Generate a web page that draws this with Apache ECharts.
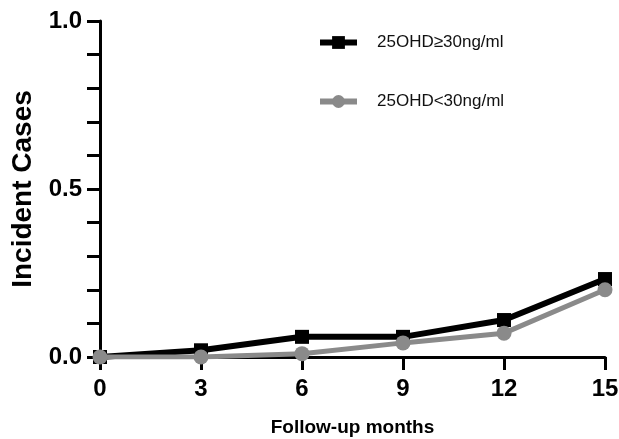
<!DOCTYPE html>
<html><head><meta charset="utf-8">
<script src="https://cdn.jsdelivr.net/npm/echarts@6/dist/echarts.min.js"></script>
<style>html,body{margin:0;padding:0;background:#fff}#c{width:619px;height:439px}</style>
</head><body><div id="c"></div>
<script>
var months = [0, 3, 6, 9, 12, 15];
var highVitD = [0, 0.02, 0.06, 0.06, 0.11, 0.232];
var lowVitD = [0, 0.0, 0.01, 0.042, 0.071, 0.2];
var seriesNames = ['25OHD\u226530ng/ml', '25OHD<30ng/ml'];
var yLabels = [0, 0.5, 1.0];

function pairs(xs, ys){ return xs.map(function(x,i){return [x, ys[i]];}); }
var font = 'Liberation Sans, Arial, sans-serif';
var chart = echarts.init(document.getElementById('c'), null, {renderer:'canvas'});
chart.setOption({
  animation:false,
  backgroundColor:'#fff',
  grid:{left:100, right:14, top:21, bottom:82, containLabel:false, outerBoundsMode:'none'},
  legend:{
    orient:'vertical', left:317, top:34, padding:0, itemGap:42, itemWidth:37, itemHeight:16,
    lineStyle:{width:6},
    textStyle:{fontFamily:font, fontSize:17, color:'#111', padding:[0,0,0,15]},
    data:seriesNames
  },
  xAxis:{
    type:'value', min:0, max:15, interval:3,
    name:'Follow-up months', nameLocation:'middle', nameGap:61,
    nameTextStyle:{fontFamily:font, fontWeight:'bold', fontSize:19, color:'#000'},
    axisLine:{lineStyle:{color:'#000', width:3}},
    axisTick:{show:true, length:13, lineStyle:{color:'#000', width:3}},
    axisLabel:{fontFamily:font, fontWeight:'bold', fontSize:24, color:'#000', margin:20},
    splitLine:{show:false}
  },
  yAxis:{
    type:'value', min:0, max:1, interval:0.1,
    name:'Incident Cases', nameLocation:'middle', nameGap:62,
    nameTextStyle:{fontFamily:font, fontWeight:'bold', fontSize:28, color:'#000'},
    axisLine:{show:true, lineStyle:{color:'#000', width:3}},
    axisTick:{show:true, length:13, lineStyle:{color:'#000', width:3}},
    axisLabel:{fontFamily:font, fontWeight:'bold', fontSize:24, color:'#000', margin:18,
      formatter:function(v){
        for (var i=0;i<yLabels.length;i++){ if (Math.abs(v-yLabels[i])<1e-6) return yLabels[i].toFixed(1); }
        return '';
      }},
    splitLine:{show:false}
  },
  series:[
    {name:seriesNames[0], type:'line', data:pairs(months, highVitD),
     symbol:'rect', symbolSize:14, lineStyle:{color:'#000', width:6},
     itemStyle:{color:'#000'}, z:2},
    {name:seriesNames[1], type:'line', data:pairs(months, lowVitD),
     symbol:'circle', symbolSize:15, lineStyle:{color:'#8a8a8a', width:5},
     itemStyle:{color:'#8a8a8a'}, z:3}
  ]
});
</script></body></html>
